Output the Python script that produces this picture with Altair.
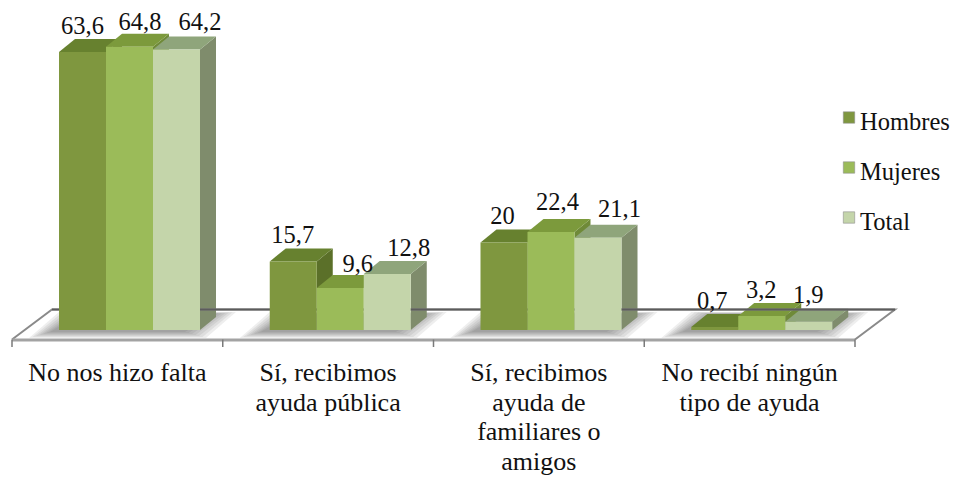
import altair as alt
import pandas as pd

categories = ["No nos hizo falta", "Sí, recibimos\nayuda pública",
              "Sí, recibimos\nayuda de\nfamiliares o\namigos", "No recibí ningún\ntipo de ayuda"]
series = ["Hombres", "Mujeres", "Total"]
hombres = [63.6, 15.7, 20, 0.7]
mujeres = [64.8, 9.6, 22.4, 3.2]
total = [64.2, 12.8, 21.1, 1.9]
value_labels = [["63,6", "15,7", "20", "0,7"], ["64,8", "9,6", "22,4", "3,2"], ["64,2", "12,8", "21,1", "1,9"]]

front_colors = ["#7F973F", "#9BBB59", "#C4D5AA"]
top_colors = ["#67812F", "#7C9A3C", "#8FA57B"]
side_colors = ["#5B7029", "#6F8A38", "#7F8C6C"]

W, H = 943, 467
UX, UY = 210.75, 4.37
def xu(p): return (p - 12) / UX
def yu(p): return (330 - p) / UY

BW = 47 / UX                      # bar width
DX, DY = 16 / UX, 13 / UY         # depth of the 3D effect
label_dx = [[23.5, 81, 141], [23, 88, 139], [22, 77, 139], [21, 70, 117]]  # px from group start
label_dy = [[18, 17, 19], [18, 16, 18], [19, 22, 21], [18, 18, 19]]        # px above the bar top

vals = [hombres, mujeres, total]
polys, fronts, labels = [], [], []
pid = 0
def add(pts, fill):
    global pid
    pid += 1
    for x, y, y2 in pts:
        polys.append(dict(poly=pid, x=x, y=y, y2=y2, fill=fill))

# floor
fx0, fx1, fb, ff = xu(12), xu(855), yu(309.5), yu(339.5)
fd = 40 / UX
add([(fx0, ff, ff), (fx0 + fd, ff, fb), (fx1, ff, fb), (fx1 + fd, fb, fb)], "#ffffff")

# soft shadows
for g in range(4):
    gx0 = g + BW
    for k in range(7):
        ins = k * 3.5
        a, b = gx0 + (-30 + ins) / UX, gx0 + 3 * BW + (6 - ins) / UX
        d = 30 / UX
        lo, hi = yu(338 - k * 1.0), yu(312 + k * 0.3)
        add([(a, lo, lo), (a + d, lo, hi), (b, lo, hi), (b + d, hi, hi)], "rgba(70,70,70,0.09)")

for g in range(4):
    gx0 = g + BW
    for s in range(3):
        v = vals[s][g]
        x0, x1 = gx0 + s * BW, gx0 + (s + 1) * BW
        add([(x1, 0, v), (x1 + DX, DY, v + DY)], side_colors[s])
        add([(x0, v, v), (x0 + DX, v, v + DY), (x1, v, v + DY), (x1 + DX, v + DY, v + DY)], top_colors[s])
        fronts.append(dict(x=x0, x2=x1, y=0, y2=v, serie=series[s]))
        labels.append(dict(x=g + xu(12 + 47 + label_dx[g][s]), y=v + label_dy[g][s] / UY, t=value_labels[s][g]))

font = "Liberation Serif"
xs = alt.Scale(domain=[xu(8), xu(8 + W)], nice=False, zero=False)
ys = alt.Scale(domain=[yu(8 + H), yu(8)], nice=False, zero=False)
X = alt.X("x:Q", scale=xs, axis=None)
Y = alt.Y("y:Q", scale=ys, axis=None)

faces = alt.Chart(pd.DataFrame(polys)).mark_area(interpolate="linear").encode(
    x=X, y=Y, y2="y2:Q", detail="poly:N", fill=alt.Fill("fill:N", scale=None))

def line(xv, yv, color, width):
    df = pd.DataFrame(dict(x=xv, y=yv, o=list(range(len(xv)))))
    return alt.Chart(df).mark_line(color=color, strokeWidth=width).encode(x=X, y=Y, order="o:Q")

outline = line([fx0, fx0 + fd, fx1 + fd, fx1], [ff, fb, fb, ff], "#8a8a8a", 2)
back_edge = line([fx0 + fd, fx1 + fd], [fb, fb], "#5c5c5c", 2)
front_edge = line([fx0, fx1], [yu(340), yu(340)], "#a3a3a3", 3)

ticks = alt.Chart(pd.DataFrame(dict(x=[0, 1, 2, 3, 4], y=[yu(339.5)] * 5, y2=[yu(347)] * 5))).mark_rule(
    color="#7a7a7a", strokeWidth=1.5).encode(x=X, y=Y, y2="y2:Q")

front = alt.Chart(pd.DataFrame(fronts)).mark_rect().encode(
    x=X, x2="x2:Q", y=Y, y2="y2:Q",
    color=alt.Color("serie:N", scale=alt.Scale(domain=series, range=front_colors), legend=None))

value_text = alt.Chart(pd.DataFrame(labels)).mark_text(
    font=font, fontSize=24.5, color="#111111", baseline="alphabetic").encode(x=X, y=Y, text="t:N")

cat_text = alt.Chart(pd.DataFrame(dict(x=[0.5, 1.5, 2.5, 3.5], y=[yu(381)] * 4, t=categories))).mark_text(
    font=font, fontSize=26, color="#111111", baseline="alphabetic", lineBreak="\n", lineHeight=29.5).encode(
    x=X, y=Y, text="t:N")

# legend
leg = pd.DataFrame(dict(x=[xu(849)] * 3, y=[yu(117.5), yu(167.5), yu(217.5)],
                        ty=[yu(130), yu(180), yu(230)], tx=[xu(860)] * 3, serie=series))
leg_sym = alt.Chart(leg).mark_square(size=130, opacity=1, stroke="#8f8f8f", strokeWidth=0.6).encode(
    x=X, y=Y, fill=alt.Fill("serie:N", scale=alt.Scale(domain=series, range=front_colors), legend=None))
leg_txt = alt.Chart(leg).mark_text(font=font, fontSize=24.5, color="#111111", align="left", baseline="alphabetic").encode(
    x=alt.X("tx:Q", scale=xs, axis=None), y=alt.Y("ty:Q", scale=ys, axis=None), text="serie:N")

chart = alt.layer(faces, outline, back_edge, front_edge, ticks, front, value_text, cat_text, leg_sym, leg_txt).resolve_scale(
    fill="independent"
).properties(
    width=W, height=H, padding=0, autosize=alt.AutoSizeParams(type="none")
).configure_view(stroke=None)

chart.save("out.html", embed_options={"renderer": "svg", "actions": False})
